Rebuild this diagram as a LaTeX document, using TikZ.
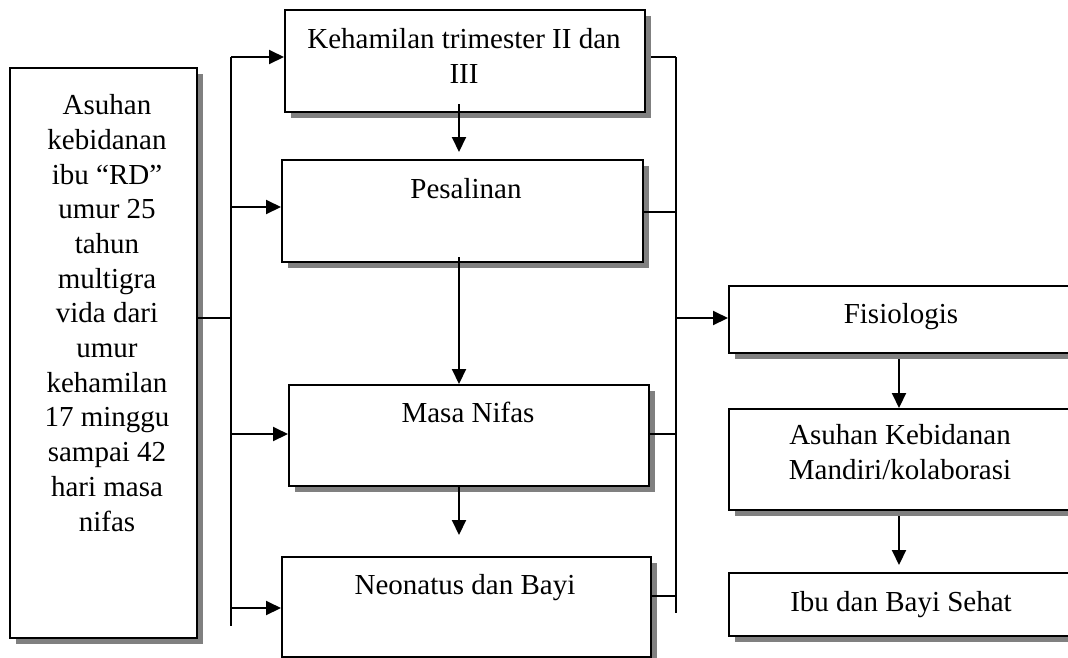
\documentclass[tikz,border=0pt]{standalone}
\usepackage{fontspec}
\setmainfont{Liberation Serif}
\usetikzlibrary{arrows.meta,shadows}
\begin{document}
\begin{tikzpicture}[x=1pt,y=-1pt,
  box/.style={draw=black, line width=2.2pt, fill=white, inner sep=0pt, anchor=north west,
    general shadow={shadow xshift=5.5pt, shadow yshift=-5.5pt, fill=black!50}},
  txt/.style={font=\fontsize{29}{34.7}\selectfont, align=center, inner sep=0pt, anchor=base},
  conn/.style={line width=2pt},
  arr/.style={line width=2pt, -{Triangle[length=15pt,width=14pt]}}]
\useasboundingbox (0,0) rectangle (1068,657);
\clip (0,0) rectangle (1068,657);

% boxes
\node[box, minimum width=187pt, minimum height=570pt] (L) at (9,67) {};
\node[box, minimum width=360pt, minimum height=102pt] (K) at (284,9) {};
\node[box, minimum width=361pt, minimum height=102pt] (P) at (281,159) {};
\node[box, minimum width=360pt, minimum height=101pt] (M) at (288,384) {};
\node[box, minimum width=369pt, minimum height=100pt] (N) at (281,556) {};
\node[box, minimum width=360pt, minimum height=67pt] (F) at (728,285) {};
\node[box, minimum width=360pt, minimum height=101pt] (A) at (728,408) {};
\node[box, minimum width=360pt, minimum height=63pt] (I) at (728,572) {};

% texts (anchor base = baseline of the last line)
\node[txt] (Lt) at (107,531) {Asuhan\\kebidanan\\ibu “RD”\\umur 25\\tahun\\multigra\\vida dari\\umur\\kehamilan\\17 minggu\\sampai 42\\hari masa\\nifas};
\node[txt] (Kt) at (464,83) {Kehamilan trimester II dan\\III};
\node[txt] (Pt) at (466,198) {Pesalinan};
\node[txt] (Mt) at (468,422) {Masa Nifas};
\node[txt] (Nt) at (465,594) {Neonatus dan Bayi};
\node[txt] (Ft) at (901,323) {Fisiologis};
\node[txt] (At) at (900,479) {Asuhan Kebidanan\\Mandiri/kolaborasi};
\node[txt] (It) at (901,611) {Ibu dan Bayi Sehat};

% left bus
\coordinate (lbtop) at (231,57);
\coordinate (lbbot) at (231,626);
\coordinate (lj0) at (231,318);
\coordinate (lj1) at (231,57);
\coordinate (lj2) at (231,207);
\coordinate (lj3) at (231,434);
\coordinate (lj4) at (231,608);
\draw[conn] (lbtop) -- (lbbot);
\draw[conn] (L.east |- lj0) -- (lj0);
\draw[arr] (lj1) -- (K.west |- lj1);
\draw[arr] (lj2) -- (P.west |- lj2);
\draw[arr] (lj3) -- (M.west |- lj3);
\draw[arr] (lj4) -- (N.west |- lj4);

% vertical arrows in middle column
\coordinate (cx) at (459,0);
\draw[arr, shorten >=7pt, shorten <=-9pt] (K.south -| cx) -- (P.north -| cx);
\draw[arr, shorten <=-6pt] (P.south -| cx) -- (M.north -| cx);
\draw[arr, shorten >=21pt] (M.south -| cx) -- (N.north -| cx);

% right bus
\coordinate (rbtop) at (676,57);
\coordinate (rbbot) at (676,613);
\coordinate (rj1) at (676,57);
\coordinate (rj2) at (676,212);
\coordinate (rj3) at (676,434);
\coordinate (rj4) at (676,596);
\coordinate (rj5) at (676,318);
\draw[conn] (rbtop) -- (rbbot);
\draw[conn] ([xshift=5pt]K.east |- rj1) -- (rj1);
\draw[conn] (P.east |- rj2) -- (rj2);
\draw[conn] (M.east |- rj3) -- (rj3);
\draw[conn] (N.east |- rj4) -- (rj4);
\draw[arr] (rj5) -- (F.west |- rj5);

% right column arrows
\coordinate (cx2) at (899,0);
\draw[arr, shorten <=5pt] (F.south -| cx2) -- (A.north -| cx2);
\draw[arr, shorten >=7pt, shorten <=5pt] (A.south -| cx2) -- (I.north -| cx2);
\end{tikzpicture}
\end{document}
